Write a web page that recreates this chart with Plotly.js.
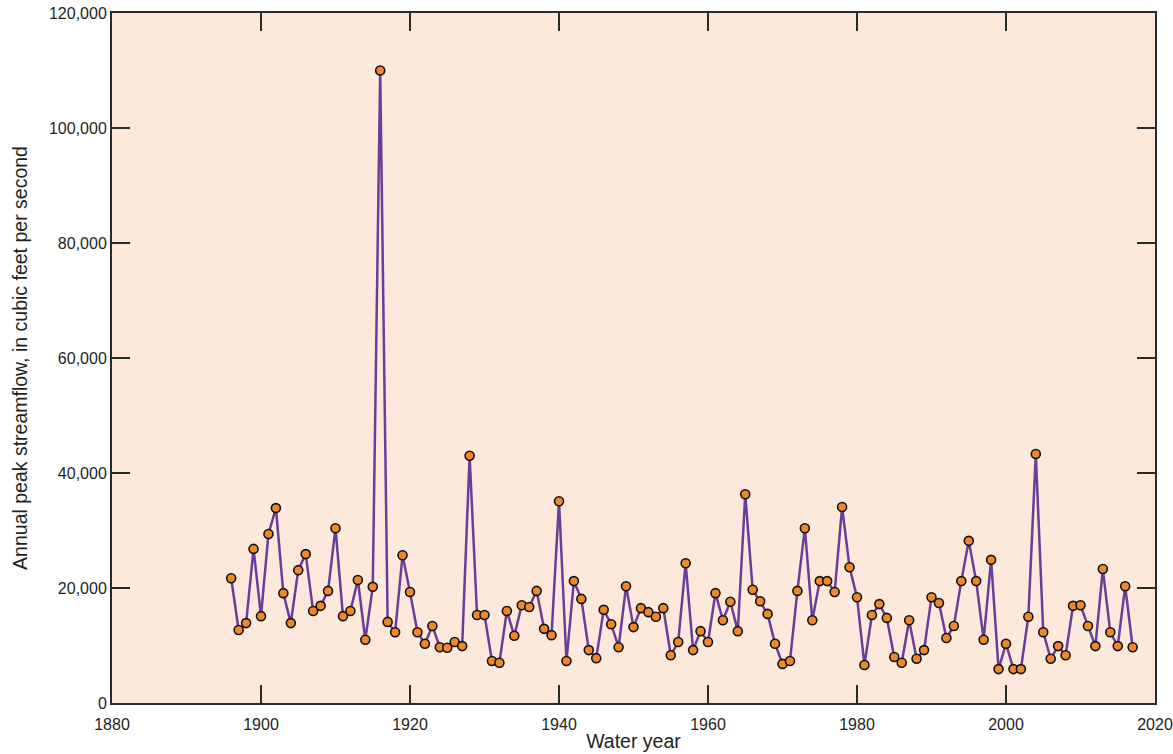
<!DOCTYPE html>
<html>
<head>
<meta charset="utf-8">
<script src="https://cdn.plot.ly/plotly-3.0.1.min.js"></script>
<style>html,body{margin:0;padding:0;background:#fff;}#chart{width:1173px;height:754px;}</style>
</head>
<body>
<div id="chart"></div>
<script>
const years = [];
for (let y = 1896; y <= 2017; y++) years.push(y);
const peakFlow = [
  21700, 12700, 13900, 26800, 15100, 29400, 33900, 19100, 13900, 23100,
  25900, 16000, 16900, 19500, 30400, 15100, 16000, 21400, 11000, 20200,
  110000, 14100, 12300, 25700, 19300, 12300, 10300, 13400, 9700, 9600,
  10600, 9900, 43000, 15300, 15300, 7300, 7000, 16000, 11700, 17000,
  16700, 19500, 12900, 11800, 35100, 7300, 21200, 18100, 9200, 7800,
  16200, 13700, 9700, 20300, 13200, 16500, 15800, 15000, 16500, 8300,
  10600, 24300, 9200, 12500, 10600, 19100, 14400, 17600, 12500, 36300,
  19700, 17700, 15500, 10300, 6800, 7300, 19500, 30400, 14400, 21200,
  21200, 19300, 34100, 23600, 18400, 6600, 15300, 17200, 14800, 8000,
  7000, 14400, 7700, 9200, 18400, 17400, 11300, 13400, 21200, 28200,
  21200, 11000, 24900, 5900, 10300, 5900, 5900, 15000, 43300, 12300,
  7700, 9900, 8300, 16900, 17000, 13400, 9900, 23300, 12300, 9900,
  20300, 9700
];
const xTicks = [1880, 1900, 1920, 1940, 1960, 1980, 2000, 2020];
const yTicks = [0, 20000, 40000, 60000, 80000, 100000, 120000];
const yTickText = ["0", "20,000", "40,000", "60,000", "80,000", "100,000", "120,000"];

const fontFam = '"Liberation Sans Narrow", "Arial Narrow", "Liberation Sans", sans-serif';

const trace = {
  x: years,
  y: peakFlow,
  type: 'scatter',
  mode: 'lines+markers',
  line: {color: '#6a3d9a', width: 2.5},
  marker: {color: '#f0882a', size: 9, line: {color: '#111', width: 1.6}},
  hoverinfo: 'x+y'
};

const axisCommon = {
  showgrid: false,
  zeroline: false,
  showline: true,
  linecolor: '#2a2a2a',
  linewidth: 2,
  mirror: 'ticks',
  ticks: 'inside',
  ticklen: 18,
  tickwidth: 2,
  tickcolor: '#2a2a2a',
  tickfont: {family: fontFam, size: 16, color: '#231f20'}
};

const layout = {
  width: 1173,
  height: 754,
  margin: {l: 112, r: 18, t: 13, b: 51},
  paper_bgcolor: '#ffffff',
  plot_bgcolor: '#fde9dc',
  showlegend: false,
  font: {family: fontFam, color: '#231f20'},
  xaxis: Object.assign({}, axisCommon, {
    range: [1880, 2020],
    tickmode: 'array',
    tickvals: xTicks,
    ticktext: xTicks.map(String),
    ticklabelstandoff: 6,
    title: {text: 'Water year', font: {family: fontFam, size: 19.5, color: '#231f20'}, standoff: 2}
  }),
  yaxis: Object.assign({}, axisCommon, {
    range: [0, 120000],
    tickmode: 'array',
    tickvals: yTicks,
    ticktext: yTickText,
    title: {text: 'Annual peak streamflow, in cubic feet per second', font: {family: fontFam, size: 19.5, color: '#231f20'}, standoff: 16}
  })
};

Plotly.newPlot('chart', [trace], layout, {displayModeBar: false, staticPlot: true});
</script>
</body>
</html>
